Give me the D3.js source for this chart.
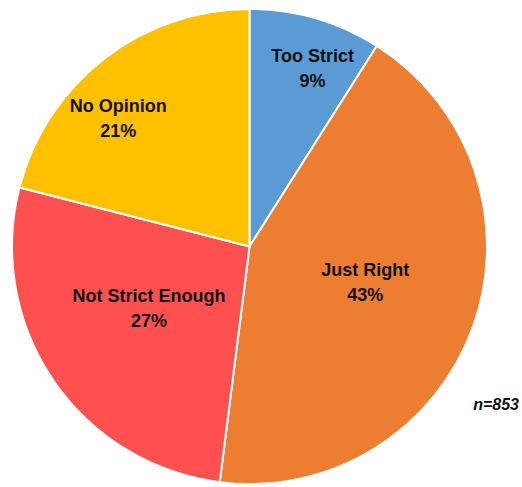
<!DOCTYPE html>
<html><head><meta charset="utf-8">
<script src="https://cdn.jsdelivr.net/npm/d3@7"></script>
<style>body{margin:0;background:#fff}svg{display:block}</style>
</head><body>
<script>
const categories = ["Too Strict", "Just Right", "Not Strict Enough", "No Opinion"];
const values = [9, 43, 27, 21];
const percentLabels = ["9%", "43%", "27%", "21%"];
const colors = ["#5B9BD5", "#ED7D31", "#FF5050", "#FFC000"];
const sampleNote = "n=853";

// label layout: [angle (deg, clockwise from top), radius (px)] for each label centre
const labelLayout = [[19.5, 189], [107, 121], [238.7, 117.6], [314.5, 184]];

const W = 522, H = 487, cx = 249.5, cy = 246.5, R = 237.5;
const svg = d3.select("body").append("svg").attr("width", W).attr("height", H);
const g = svg.append("g").attr("transform", `translate(${cx},${cy})`);

const pie = d3.pie().sort(null).value(d => d.v).startAngle(0).endAngle(2 * Math.PI);
const data = categories.map((c, i) => ({c, v: values[i], p: percentLabels[i], col: colors[i], i}));
const arc = d3.arc().innerRadius(0).outerRadius(R);

g.selectAll("path").data(pie(data)).join("path")
  .attr("d", arc).attr("fill", d => d.data.col)
  .attr("stroke", "#fff").attr("stroke-width", 2).attr("stroke-linejoin", "round");

const font = "bold 18px 'Liberation Sans', Arial, sans-serif";
const lab = g.selectAll("g.lab").data(pie(data)).join("g").attr("class", "lab")
  .attr("transform", d => {
    const [a, r] = labelLayout[d.data.i];
    const t = a * Math.PI / 180;
    return `translate(${r * Math.sin(t)},${-r * Math.cos(t)})`;
  });
lab.append("text").attr("text-anchor", "middle").attr("y", -6)
  .style("font", font).attr("fill", "#111")
  .text(d => d.data.c);
lab.append("text").attr("text-anchor", "middle").attr("y", 19)
  .style("font", font).attr("fill", "#111")
  .text(d => d.data.p);

svg.append("text").attr("x", 519).attr("y", 410).attr("text-anchor", "end")
  .style("font", "italic bold 16px 'Liberation Sans', Arial, sans-serif").attr("fill", "#111")
  .text(sampleNote);
</script>
</body></html>
